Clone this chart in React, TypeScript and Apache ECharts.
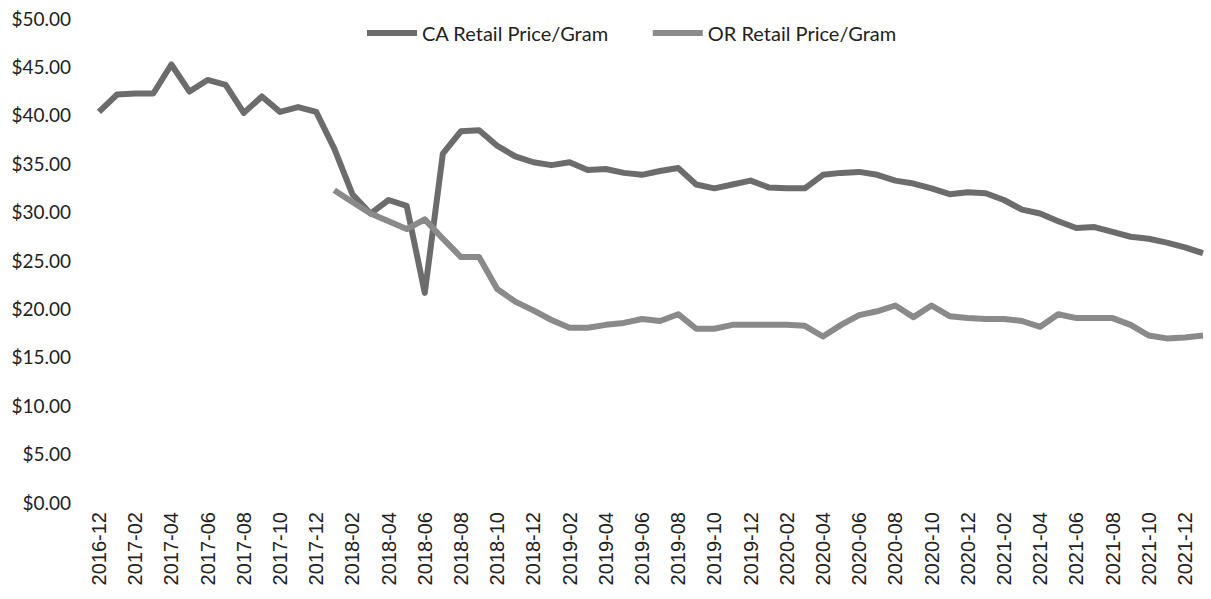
import React, { useEffect, useRef } from "react";
import * as echarts from "echarts";

const months = [
  "2016-12", "2017-01", "2017-02", "2017-03", "2017-04", "2017-05", "2017-06", "2017-07", "2017-08", "2017-09", "2017-10", "2017-11", "2017-12",
  "2018-01", "2018-02", "2018-03", "2018-04", "2018-05", "2018-06", "2018-07", "2018-08", "2018-09", "2018-10", "2018-11", "2018-12",
  "2019-01", "2019-02", "2019-03", "2019-04", "2019-05", "2019-06", "2019-07", "2019-08", "2019-09", "2019-10", "2019-11", "2019-12",
  "2020-01", "2020-02", "2020-03", "2020-04", "2020-05", "2020-06", "2020-07", "2020-08", "2020-09", "2020-10", "2020-11", "2020-12",
  "2021-01", "2021-02", "2021-03", "2021-04", "2021-05", "2021-06", "2021-07", "2021-08", "2021-09", "2021-10", "2021-11", "2021-12",
  "2022-01",
];

const caPrice = [
  40.3, 42.1, 42.2, 42.2, 45.2, 42.4, 43.6, 43.1, 40.2, 41.9, 40.3, 40.8, 40.3,
  36.5, 31.8, 29.8, 31.2, 30.6, 21.6, 36.0, 38.3, 38.4, 36.8, 35.7, 35.1,
  34.8, 35.1, 34.3, 34.4, 34.0, 33.8, 34.2, 34.5, 32.8, 32.4, 32.8, 33.2,
  32.5, 32.4, 32.4, 33.8, 34.0, 34.1, 33.8, 33.2, 32.9, 32.4, 31.8, 32.0,
  31.9, 31.2, 30.2, 29.8, 29.0, 28.3, 28.4, 27.9, 27.4, 27.2, 26.8, 26.3,
  25.7,
];

const orPrice = [
  null, null, null, null, null, null, null, null, null, null, null, null, null,
  32.2, 31.0, 29.8, 29.0, 28.2, 29.2, 27.2, 25.3, 25.3, 22.0, 20.7, 19.8,
  18.8, 18.0, 18.0, 18.3, 18.5, 18.9, 18.7, 19.4, 17.9, 17.9, 18.3, 18.3,
  18.3, 18.3, 18.2, 17.1, 18.3, 19.3, 19.7, 20.3, 19.1, 20.3, 19.2, 19.0,
  18.9, 18.9, 18.7, 18.1, 19.4, 19.0, 19.0, 19.0, 18.3, 17.2, 16.9, 17.0,
  17.2,
];

const seriesNames = ["CA Retail Price/Gram", "OR Retail Price/Gram"];
const yTicks = { min: 0, max: 50, interval: 5 };

export default function App() {
  const ref = useRef<HTMLDivElement>(null);

  useEffect(() => {
    if (!ref.current) return;
    const chart = echarts.init(ref.current, undefined, { renderer: "svg" });
    chart.setOption({
      animation: false,
      backgroundColor: "#ffffff",
      legend: {
        top: 23,
        left: 367,
        padding: 0,
        itemGap: 44,
        itemWidth: 50,
        itemHeight: 6,
        icon: "rect",
        textStyle: { fontFamily: "Lato", fontSize: 20, color: "#222" },
        data: seriesNames,
      },
      grid: { left: 99, right: 8, top: 18, bottom: 97, containLabel: false },
      xAxis: {
        type: "category",
        data: months,
        boundaryGap: false,
        axisLine: { show: false },
        axisTick: { show: false },
        axisLabel: {
          interval: 1,
          rotate: 90,
          margin: 10,
          fontFamily: "Liberation Sans",
          fontSize: 20,
          color: "#222",
        },
        splitLine: { show: false },
      },
      yAxis: {
        type: "value",
        min: yTicks.min,
        max: yTicks.max,
        interval: yTicks.interval,
        axisLine: { show: false },
        axisTick: { show: false },
        splitLine: { show: false },
        axisLabel: {
          margin: 28,
          fontFamily: "Lato",
          fontSize: 19,
          color: "#222",
          formatter: (v: number) => "$" + v.toFixed(2),
        },
      },
      series: [
        {
          name: seriesNames[0],
          type: "line",
          data: caPrice,
          showSymbol: false,
          symbol: "none",
          color: "#6c6c6c",
          lineStyle: { width: 6, color: "#6c6c6c", join: "round" },
        },
        {
          name: seriesNames[1],
          type: "line",
          data: orPrice,
          showSymbol: false,
          symbol: "none",
          color: "#8a8a8a",
          lineStyle: { width: 6, color: "#8a8a8a", join: "round" },
        },
      ],
    });
    return () => chart.dispose();
  }, []);

  return (
    <div
      ref={ref}
      style={{ position: "fixed", left: 0, top: 0, width: 1211, height: 599, background: "#fff" }}
    />
  );
}
